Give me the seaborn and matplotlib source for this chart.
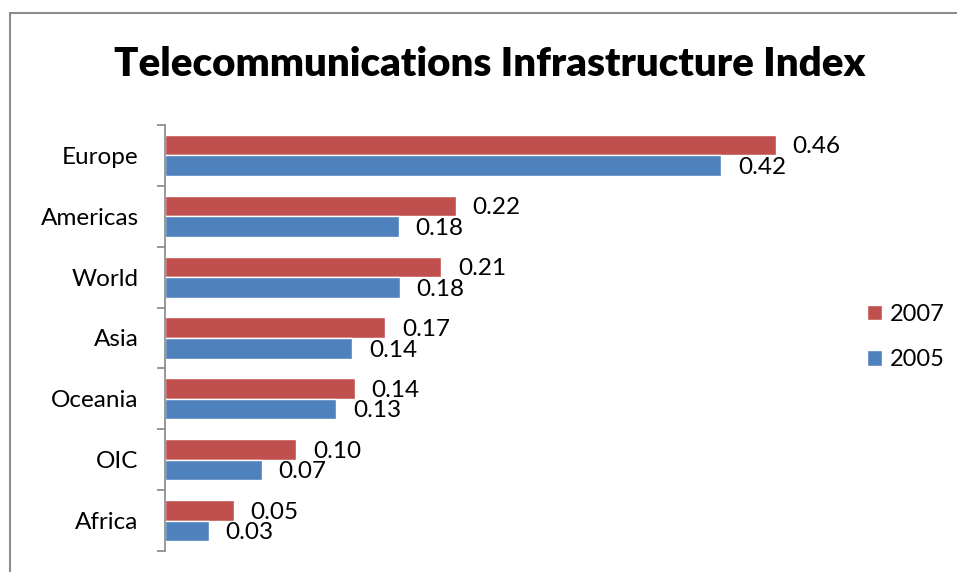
import pandas as pd
import numpy as np
import matplotlib
matplotlib.use("Agg")
import matplotlib.pyplot as plt
import seaborn as sns
from matplotlib.patches import Rectangle

regions = ["Europe", "Americas", "World", "Asia", "Oceania", "OIC", "Africa"]
years = ["2007", "2005"]
idx_2007 = [0.460, 0.219, 0.208, 0.166, 0.143, 0.099, 0.052]
idx_2005 = [0.419, 0.176, 0.177, 0.141, 0.129, 0.073, 0.033]
colors = {"2007": "#C0504D", "2005": "#4F81BD"}

df = pd.DataFrame({
    "region": regions * 2,
    "year": ["2007"] * len(regions) + ["2005"] * len(regions),
    "value": idx_2007 + idx_2005,
})

sns.set_style("white")
plt.rcParams["font.family"] = ["Lato", "DejaVu Sans"]
plt.rcParams["text.color"] = "black"
plt.rcParams["ytick.labelcolor"] = "black"

fig = plt.figure(figsize=(9.57, 5.72), dpi=100)
ax = fig.add_axes([165 / 957, 1 - 551 / 572, 664 / 957, 426 / 572])

sns.barplot(data=df, x="value", y="region", hue="year", hue_order=years,
            order=regions, palette=colors, orient="h", width=0.675, gap=0,
            ax=ax, legend=True, saturation=1)

ax.set_xlim(0, 0.5)
ax.set_ylim(len(regions) - 0.5, -0.5)
ax.set_xlabel("")
ax.set_ylabel("")
ax.set_xticks([])
for s in ["top", "right", "bottom"]:
    ax.spines[s].set_visible(False)
ax.spines["left"].set_color("#868686")
ax.spines["left"].set_linewidth(1.2)
ax.set_yticks(np.arange(len(regions) + 1) - 0.5, minor=True)
ax.tick_params(axis="y", which="minor", length=6, width=1.2, color="#868686", direction="out", left=True)
ax.tick_params(axis="y", which="major", length=0, labelsize=17.5, pad=19, labelcolor="black")

# value labels
for cont, yr in zip(ax.containers, years):
    for bar in cont:
        w = bar.get_width()
        yc = bar.get_y() + bar.get_height() / 2
        ax.text(w + 0.0125, yc + 0.03, f"{w:.2f}", va="center", ha="left", fontsize=17.5, color="black")

leg = ax.legend(loc="center left", bbox_to_anchor=(867 / 957, 1 - 337 / 572),
                bbox_transform=fig.transFigure, frameon=False, fontsize=17,
                handlelength=0.62, handleheight=0.62, handletextpad=0.35,
                labelspacing=1.05, borderpad=0, borderaxespad=0)
for t in leg.get_texts():
    t.set_color("black")

fig.text(490 / 957, 1 - 65 / 572, "Telecommunications Infrastructure Index",
         ha="center", va="center", fontsize=29, fontweight="heavy", color="black")

fig.patches.append(Rectangle((10 / 957, -0.05), 1.1, 1 - 13 / 572 + 0.05,
                             transform=fig.transFigure, fill=False,
                             edgecolor="#8C8C8C", linewidth=1.5))

fig.savefig("out.png", dpi=100)
